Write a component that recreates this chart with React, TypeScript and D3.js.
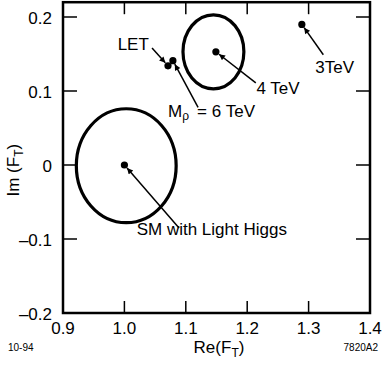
import { useEffect, useRef } from 'react'
import * as d3 from 'd3'

const W = 382
const H = 388

const X_TICKS = [0.9, 1.0, 1.1, 1.2, 1.3, 1.4]
const Y_TICKS = [-0.2, -0.1, 0, 0.1, 0.2]
const X_TICK_LABELS = ['0.9', '1.0', '1.1', '1.2', '1.3', '1.4']
const Y_TICK_LABELS = ['–0.2', '–0.1', '0', '0.1', '0.2']

// model points (Re, Im)
const POINT_NAMES = ['SM', 'LET', 'Mrho6', '4TeV', '3TeV']
const POINT_RE = [1.0, 1.071, 1.079, 1.149, 1.289]
const POINT_IM = [0.0, 0.134, 0.141, 0.153, 0.19]

// error ellipses: center and half-widths
const ELLIPSE_CX = [1.003, 1.145]
const ELLIPSE_CY = [-0.001, 0.153]
const ELLIPSE_RX = [0.0813, 0.0496]
const ELLIPSE_RY = [0.077, 0.05]

// annotations: text anchor, arrow tail and the point the arrow hits
const NOTE_TEXT = ['LET', 'Mρ', '4 TeV', '3TeV', 'SM with Light Higgs']
const NOTE_X = [0.989, 1.071, 1.215, 1.311, 1.02]
const NOTE_Y = [0.155, 0.065, 0.096, 0.124, -0.0946]
const TAIL_X = [1.045, 1.12, 1.214, 1.324, 1.089]
const TAIL_Y = [0.158, 0.078, 0.111, 0.149, -0.085]
const NOTE_TARGET = ['LET', 'Mrho6', '4TeV', '3TeV', 'SM']

const FONT = '"Liberation Sans", Arial, Helvetica, sans-serif'

export default function App() {
  const svgRef = useRef<SVGSVGElement>(null)

  useEffect(() => {
    if (!svgRef.current) return
    const svg = d3.select(svgRef.current)
    svg.selectAll('*').remove()

    const x = d3.scaleLinear().domain([0.9, 1.4]).range([63, 370])
    const y = d3.scaleLinear().domain([-0.2, 0.2]).range([313, 17])
    const yTop = y(0.22)

    svg.append('defs').append('marker')
      .attr('id', 'ah')
      .attr('viewBox', '0 0 10 10')
      .attr('refX', 10).attr('refY', 5)
      .attr('markerWidth', 9).attr('markerHeight', 6)
      .attr('markerUnits', 'userSpaceOnUse')
      .attr('orient', 'auto')
      .append('path').attr('d', 'M0,0 L10,5 L0,10 Z').attr('fill', '#000')

    const g = svg.append('g')

    // ticks (inward, all four sides)
    X_TICKS.slice(1, -1).forEach(t => {
      g.append('line').attr('x1', x(t)).attr('x2', x(t)).attr('y1', y(-0.2)).attr('y2', y(-0.2) - 12)
        .attr('stroke', '#000').attr('stroke-width', 1.5)
      g.append('line').attr('x1', x(t)).attr('x2', x(t)).attr('y1', yTop).attr('y2', yTop + 12)
        .attr('stroke', '#000').attr('stroke-width', 1.5)
    })
    Y_TICKS.slice(1).forEach(t => {
      g.append('line').attr('x1', x(0.9)).attr('x2', x(0.9) + 14).attr('y1', y(t)).attr('y2', y(t))
        .attr('stroke', '#000').attr('stroke-width', 1.5)
      g.append('line').attr('x1', x(1.4)).attr('x2', x(1.4) - 14).attr('y1', y(t)).attr('y2', y(t))
        .attr('stroke', '#000').attr('stroke-width', 1.5)
    })

    // frame
    g.append('rect')
      .attr('x', x(0.9)).attr('y', yTop)
      .attr('width', x(1.4) - x(0.9)).attr('height', y(-0.2) - yTop)
      .attr('fill', 'none').attr('stroke', '#000').attr('stroke-width', 2.5)

    // tick labels
    X_TICKS.forEach((t, i) => {
      g.append('text').attr('x', x(t)).attr('y', 334)
        .attr('text-anchor', 'middle').attr('font-size', 17).attr('font-family', FONT)
        .text(X_TICK_LABELS[i])
    })
    Y_TICKS.forEach((t, i) => {
      g.append('text').attr('x', 52).attr('y', y(t) + 7)
        .attr('text-anchor', 'end').attr('font-size', 17).attr('font-family', FONT)
        .text(Y_TICK_LABELS[i])
    })

    // axis titles
    const xt = g.append('text').attr('x', 219).attr('y', 353)
      .attr('text-anchor', 'middle').attr('font-size', 17).attr('font-family', FONT)
    xt.append('tspan').text('Re(F')
    xt.append('tspan').attr('font-size', 12).attr('dy', 4).text('T')
    xt.append('tspan').attr('dy', -4).text(')')

    const yt = g.append('text').attr('transform', `translate(19,${y(-0.007)}) rotate(-90)`)
      .attr('text-anchor', 'middle').attr('font-size', 17).attr('font-family', FONT)
    yt.append('tspan').text('Im (F')
    yt.append('tspan').attr('font-size', 12).attr('dy', 4).text('T')
    yt.append('tspan').attr('dy', -4).text(')')

    g.append('text').attr('x', 8).attr('y', 351).attr('font-size', 10).attr('font-family', FONT).text('10-94')
    g.append('text').attr('x', 378).attr('y', 351).attr('text-anchor', 'end')
      .attr('font-size', 10).attr('font-family', FONT).text('7820A2')

    // ellipses
    ELLIPSE_CX.forEach((cx, i) => {
      g.append('ellipse')
        .attr('cx', x(cx)).attr('cy', y(ELLIPSE_CY[i]))
        .attr('rx', x(cx + ELLIPSE_RX[i]) - x(cx))
        .attr('ry', y(ELLIPSE_CY[i]) - y(ELLIPSE_CY[i] + ELLIPSE_RY[i]))
        .attr('fill', 'none').attr('stroke', '#000').attr('stroke-width', 3.2)
    })

    // points
    g.selectAll('.pt').data(POINT_NAMES).enter().append('circle')
      .attr('cx', (_, i) => x(POINT_RE[i]))
      .attr('cy', (_, i) => y(POINT_IM[i]))
      .attr('r', 3.6).attr('fill', '#000')

    // annotations
    NOTE_TEXT.forEach((txt, i) => {
      const k = POINT_NAMES.indexOf(NOTE_TARGET[i])
      const x0 = x(TAIL_X[i]), y0 = y(TAIL_Y[i])
      const x1 = x(POINT_RE[k]), y1 = y(POINT_IM[k])
      const len = Math.hypot(x1 - x0, y1 - y0)
      const s = (len - 4) / len
      g.append('line')
        .attr('x1', x0).attr('y1', y0)
        .attr('x2', x0 + (x1 - x0) * s).attr('y2', y0 + (y1 - y0) * s)
        .attr('stroke', '#000').attr('stroke-width', 1.5)
        .attr('marker-end', 'url(#ah)')

      const t = g.append('text').attr('x', x(NOTE_X[i])).attr('y', y(NOTE_Y[i]))
        .attr('font-size', 17).attr('font-family', FONT)
      if (txt === 'Mρ') {
        t.append('tspan').text('M')
        t.append('tspan').attr('font-size', 12).attr('dy', 3).text('ρ')
        t.append('tspan').attr('dy', -3).attr('dx', 8).text('= 6 TeV')
      } else {
        t.text(txt)
      }
    })
  }, [])

  return (
    <svg ref={svgRef} width={W} height={H}
      style={{ position: 'absolute', left: 0, top: 0, background: '#fff' }} />
  )
}
